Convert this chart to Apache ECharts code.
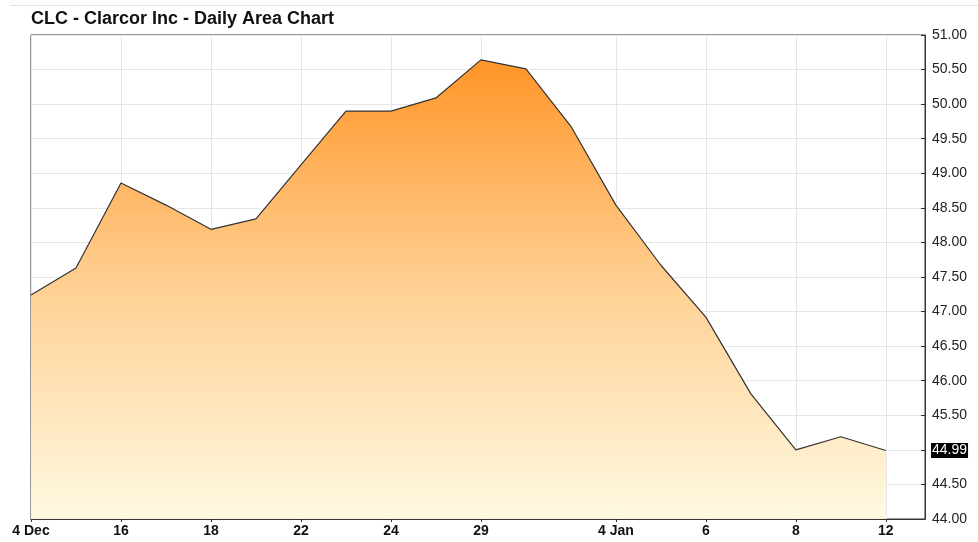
<!DOCTYPE html>
<html>
<head>
<meta charset="utf-8">
<script src="https://cdn.jsdelivr.net/npm/echarts@6/dist/echarts.min.js"></script>
<style>html,body{margin:0;padding:0;background:#fff}#c{width:978px;height:542px}</style>
</head>
<body>
<div id="c"></div>
<script>
// Data
var titleText = 'CLC - Clarcor Inc - Daily Area Chart';
var categories = ['4 Dec','15','16','17','18','21','22','23','24','28','29','30','31','4 Jan','5','6','7','8','11','12'];
var shownLabels = ['4 Dec','','16','','18','','22','','24','','29','','','4 Jan','','6','','8','','12'];
var prices = [47.24,47.63,48.86,48.54,48.19,48.34,49.12,49.90,49.90,50.09,50.64,50.51,49.68,48.54,47.67,46.92,45.81,45.00,45.19,44.99];
var lastPrice = 44.99;
var yMin = 44, yMax = 51, yStep = 0.5;

var seriesData = prices.map(function(v,i){ return [i, v]; });
var labelIdx = [];
shownLabels.forEach(function(s,i){ if (s) labelIdx.push(i); });

var chart = echarts.init(document.getElementById('c'), null, {renderer:'canvas'});
var font = '"Liberation Sans", Arial, sans-serif';
chart.setOption({
  animation:false,
  backgroundColor:'#fff',
  title:{
    text:titleText, left:31, top:10, padding:0,
    textStyle:{fontFamily:font, fontSize:18, fontWeight:'bold', color:'#111'}
  },
  graphic:[{type:'line', shape:{x1:10,y1:5.5,x2:978,y2:5.5}, style:{stroke:'#e3e3e3', lineWidth:1}, silent:true}],
  grid:{left:31, right:53, top:35, bottom:23, show:true, borderColor:'#333', borderWidth:1, backgroundColor:'#fff'},
  xAxis:{
    type:'value', min:0, max:19.87,
    axisLine:{show:true, onZero:false, lineStyle:{color:'#333', width:1}},
    axisTick:{show:true, length:3, inside:false, lineStyle:{color:'#333'}, customValues:labelIdx},
    axisLabel:{
      show:true, margin:5, color:'#111', fontFamily:font, fontSize:14, fontWeight:'bold',
      customValues:labelIdx,
      formatter:function(v){ var i=Math.round(v); return shownLabels[i]||''; }
    },
    splitLine:{show:true, lineStyle:{color:'#e6e6e6', width:1}},
    interval:1
  },
  yAxis:{
    type:'value', position:'right', min:yMin, max:yMax, interval:yStep,
    axisLine:{show:true, onZero:false, lineStyle:{color:'#333', width:1}},
    axisTick:{show:true, inside:true, length:4, lineStyle:{color:'#333'}},
    axisLabel:{margin:7, color:'#222', fontFamily:font, fontSize:14,
      formatter:function(v){ return v.toFixed(2); }},
    splitLine:{show:true, lineStyle:{color:'#e6e6e6', width:1}}
  },
  series:[{
    type:'line', data:seriesData, symbol:'none',
    lineStyle:{color:'#333', width:1.2},
    areaStyle:{
      opacity:1,
      color:new echarts.graphic.LinearGradient(0,0,0,1,[
        {offset:0, color:'rgba(255,145,30,0.96)'},
        {offset:0.5, color:'rgba(255,205,140,0.93)'},
        {offset:1, color:'rgba(255,249,224,0.93)'}
      ])
    },
    markLine:{
      silent:true, symbol:'none',
      lineStyle:{color:'rgba(0,0,0,0)', width:0},
      label:{show:true, position:'end', distance:6, formatter:function(){return lastPrice.toFixed(2);},
        backgroundColor:'#000', color:'#fff', padding:[1,1,0,1], fontFamily:font, fontSize:14},
      data:[{yAxis:lastPrice}]
    }
  }]
});
</script>
</body>
</html>
